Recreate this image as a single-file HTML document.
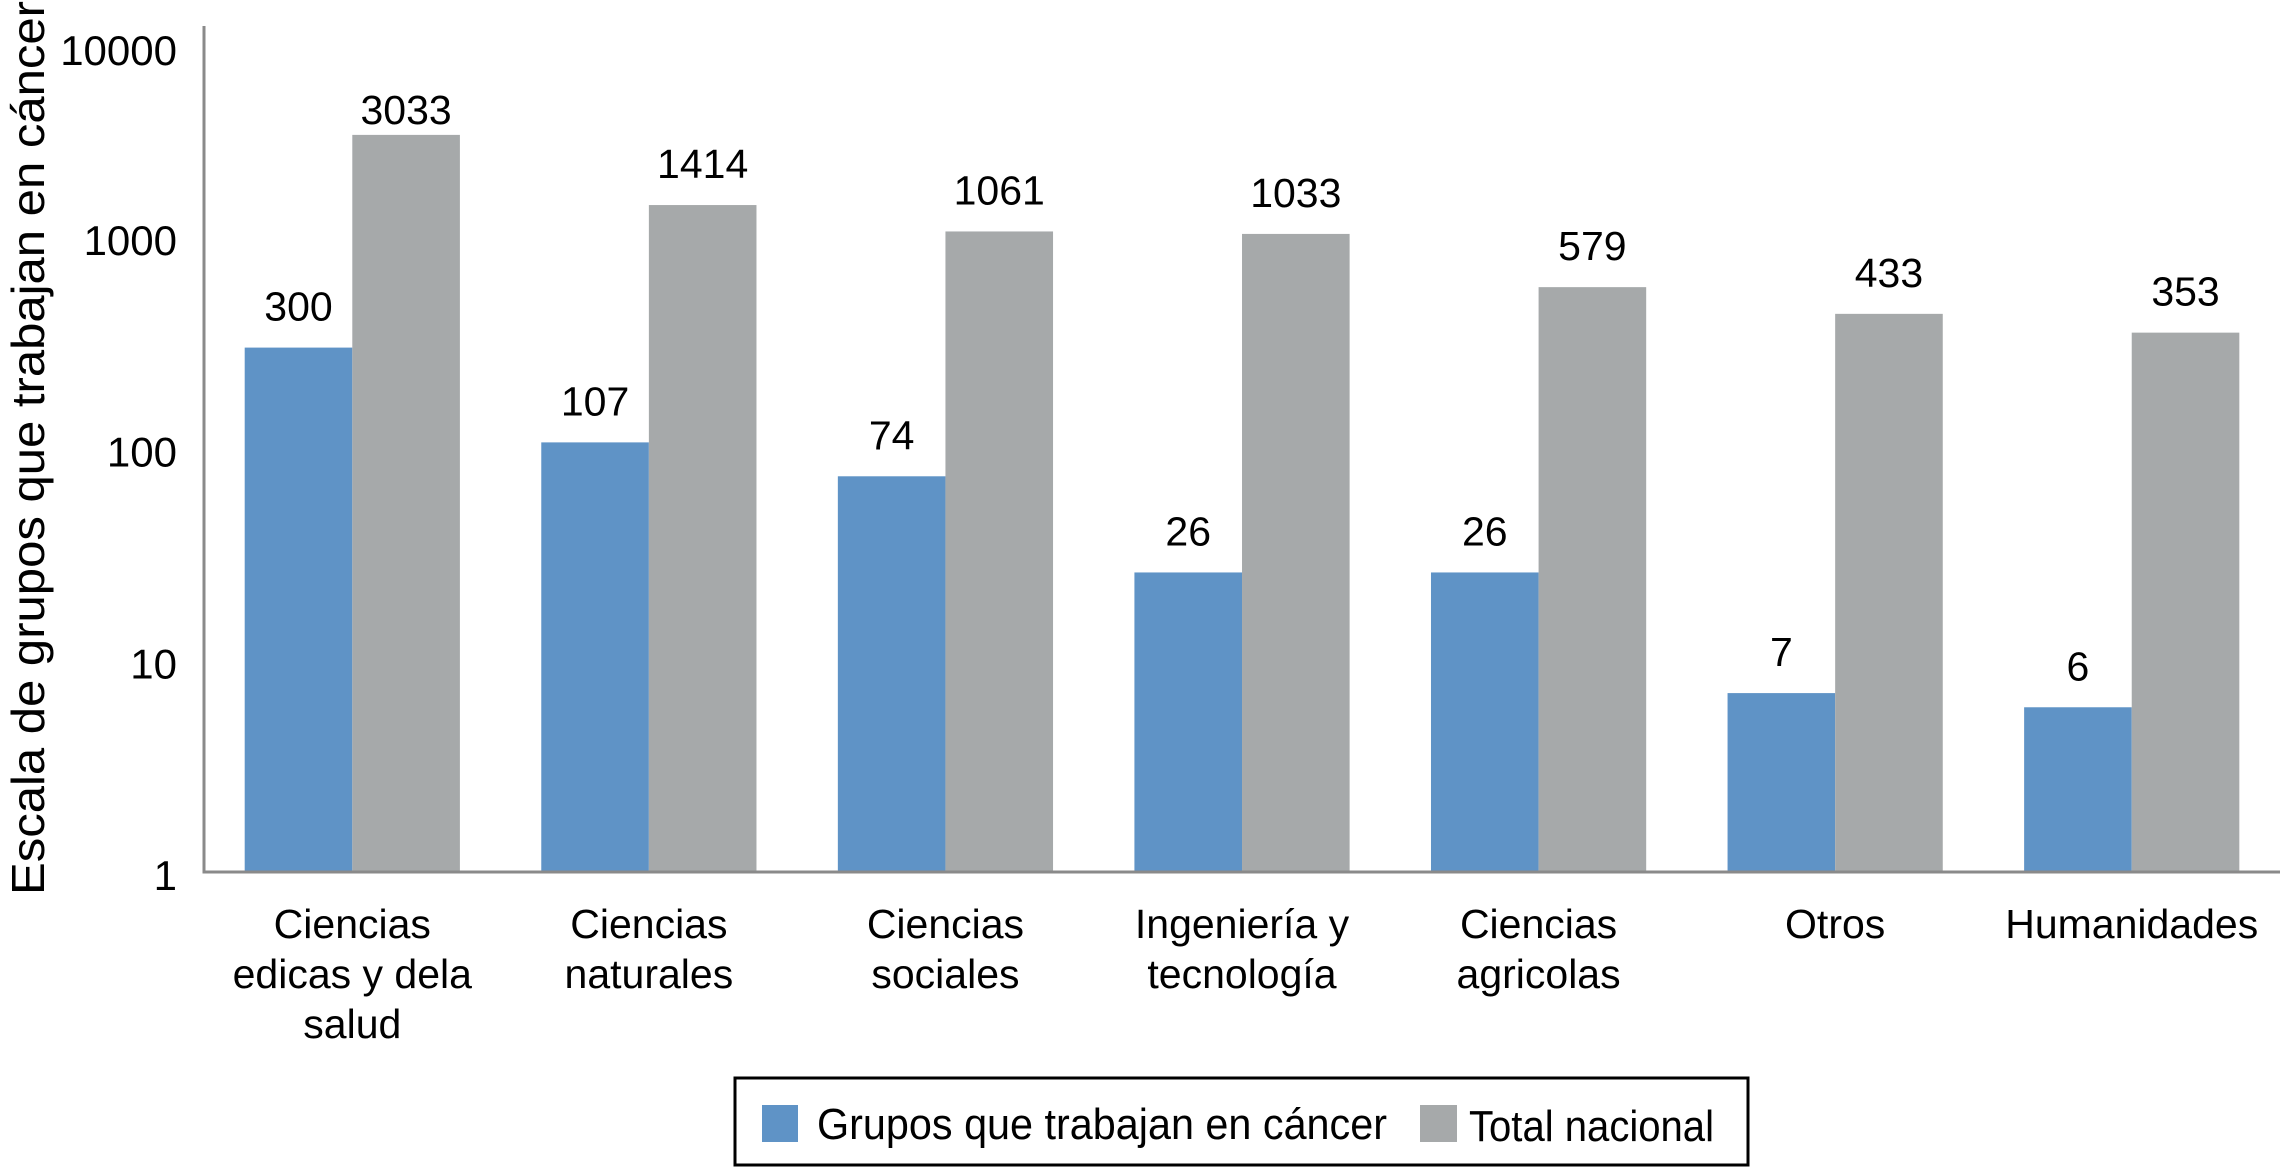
<!DOCTYPE html>
<html><head><meta charset="utf-8"><style>
html,body{margin:0;padding:0;background:#fff;}
svg{display:block;font-family:"Liberation Sans",Arial,sans-serif;}
</style></head><body>
<svg id="chart" width="2280" height="1168" viewBox="0 0 2280 1168" xmlns="http://www.w3.org/2000/svg">
<g id="plot"></g>
<text transform="translate(44,448) rotate(-90)" text-anchor="middle" font-size="46" textLength="894" lengthAdjust="spacingAndGlyphs" fill="#000">Escala de grupos que trabajan en cáncer</text>
<g>
<rect x="735" y="1078" width="1013" height="87" fill="#fff" stroke="#000" stroke-width="3"/>
<rect x="762" y="1105" width="36" height="37" fill="#5f93c6"/>
<text x="817" y="1139" font-size="44" textLength="570" lengthAdjust="spacingAndGlyphs">Grupos que trabajan en cáncer</text>
<rect x="1420" y="1105" width="37" height="37" fill="#a6a9aa"/>
<text x="1469" y="1141" font-size="44" textLength="245" lengthAdjust="spacingAndGlyphs">Total nacional</text>
</g>
</svg>
<script>
const categories = [["Ciencias","edicas y dela","salud"],["Ciencias","naturales"],["Ciencias","sociales"],["Ingeniería y","tecnología"],["Ciencias","agricolas"],["Otros"],["Humanidades"]];
const cancerValues = [300,107,74,26,26,7,6];
const totalValues = [3033,1414,1061,1033,579,433,353];
const tickValues = [1,10,100,1000,10000];
const tickLabels = ["1","10","100","1000","10000"];

const NS="http://www.w3.org/2000/svg";
const g=document.getElementById('plot');
const x0=204, x1=2280, y0=872, decade=211.7;
const catW=(x1-x0)/categories.length, barW=107.6, off=40.7;
function yScale(v){return y0-Math.log10(v)*decade;}
function xCat(i){return x0+i*catW;}
function mk(tag,attrs){const e=document.createElementNS(NS,tag);for(const k in attrs)e.setAttribute(k,attrs[k]);g.appendChild(e);return e;}

tickValues.forEach((v,i)=>{
  const t=mk('text',{x:177,y:yScale(v)+18+(i===4?22:0),'text-anchor':'end','font-size':42,fill:'#000'});
  
  
  t.textContent=tickLabels[i];
});

categories.forEach((c,i)=>{
  const bx=xCat(i)+off;
  [[cancerValues[i],'#5f93c6','bar-cancer'],[totalValues[i],'#a6a9aa','bar-total']].forEach((s,j)=>{
    const x=bx+j*barW, y=yScale(s[0]);
    const r=mk('rect',{x:x,y:y,width:barW,height:y0-y,fill:s[1]});
    
    
    const t=mk('text',{x:x+barW/2,y:Math.max(y-27,124),'text-anchor':'middle','font-size':41,fill:'#000'});
    
    
    t.textContent=s[0];
  });
  const cx=bx+barW;
  c.forEach((line,k)=>{
    const t=mk('text',{x:cx,y:938+k*50,'text-anchor':'middle','font-size':41,fill:'#000'});
    
    
    t.textContent=line;
  });
});

const ax=mk('path',{d:`M${x0} 26 V${y0} H${x1}`,fill:'none',stroke:'#8a8a8a','stroke-width':3});


</script>
</body></html>
